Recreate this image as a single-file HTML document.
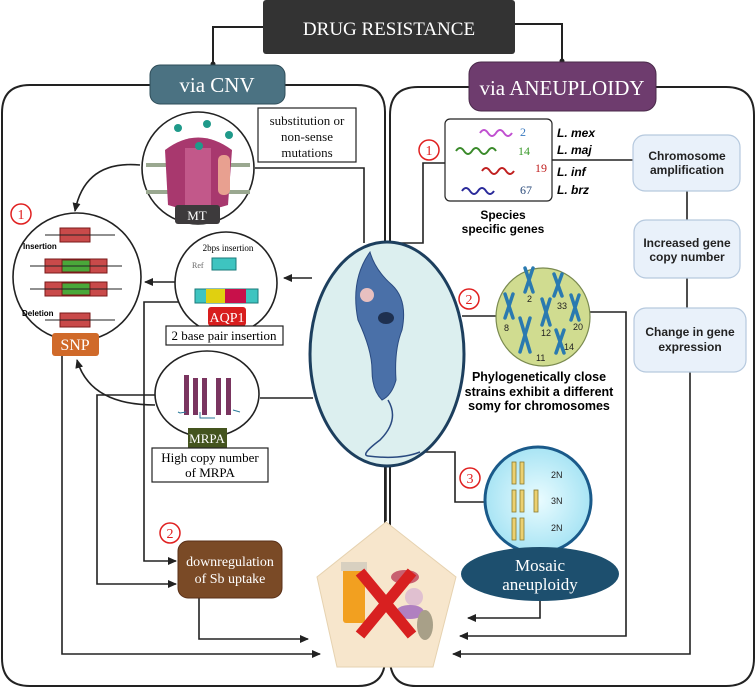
<!DOCTYPE html>
<html><head><meta charset="utf-8"><style>
html,body{margin:0;padding:0;background:#fff;}
svg{display:block;}
.s{font-family:"Liberation Serif",serif;}
.b{font-family:"Liberation Sans",sans-serif;font-weight:bold;}
</style></head><body>
<svg width="756" height="689" viewBox="0 0 756 689" xmlns="http://www.w3.org/2000/svg">
<defs>
<marker id="ar" markerWidth="10" markerHeight="10" refX="8" refY="5" orient="auto" markerUnits="userSpaceOnUse">
<path d="M0,1 L9,5 L0,9 Z" fill="#222"/></marker>
<radialGradient id="mg" cx="0.5" cy="0.5" r="0.5"><stop offset="0" stop-color="#eafcff"/><stop offset="1" stop-color="#a8e4f4"/></radialGradient>
</defs>
<g fill="none" stroke="#222" stroke-width="2">
<!-- panels -->
<path d="M150,85 H30 Q2,85 2,113 V658 Q2,686 30,686 H358 Q383,686 385,662 V112 Q385,85 357,85 H285"/>
<path d="M469,87 H418 Q390,87 390,115 V662 Q392,686 416,686 H726 Q754,686 754,658 V115 Q754,87 726,87 H656"/>
<!-- title connectors -->
<path d="M263,27 H213 V64"/><path d="M515,24 H562 V61"/>
</g>
<circle cx="213" cy="64" r="2.5" fill="#222"/><circle cx="562" cy="61" r="2.5" fill="#222"/>
<!-- title -->
<rect x="263" y="0" width="252" height="54" rx="3" fill="#333"/>
<text x="389" y="35" class="s" font-size="19" fill="#fff" text-anchor="middle">DRUG RESISTANCE</text>
<rect x="150" y="65" width="135" height="39" rx="10" fill="#4b7282" stroke="#2e4c58"/>
<text x="217" y="92" class="s" font-size="21" fill="#fff" text-anchor="middle">via CNV</text>
<rect x="469" y="62" width="187" height="49" rx="12" fill="#6e3c6e" stroke="#4a2a4a"/>
<text x="562" y="95" class="s" font-size="21" fill="#fff" text-anchor="middle">via ANEUPLOIDY</text>

<!-- connectors left -->
<g fill="none" stroke="#222" stroke-width="1.6">
<path d="M255,168 H364 V243"/>
<path d="M140,165 Q85,160 75,211" marker-end="url(#ar)"/>
<path d="M312,278 H284" marker-end="url(#ar)"/>
<path d="M175,282 H145" marker-end="url(#ar)"/>
<path d="M183,302 H144 V561 H176" marker-end="url(#ar)"/>
<path d="M313,398 H260"/>
<path d="M155,395 H97 V584 H176" marker-end="url(#ar)"/>
<path d="M155,405 Q90,405 77,360" marker-end="url(#ar)"/>
<path d="M62,356 V654 H320" marker-end="url(#ar)"/>
<path d="M199,598 V639 H308" marker-end="url(#ar)"/>
<path d="M386,466 V521"/>
<!-- right -->
<path d="M445,163 H423 V243 H390"/>
<path d="M552,160 H633"/>
<path d="M687,191 V220 M687,278 V308"/>
<path d="M462,316 H497"/>
<path d="M590,312 H626 V636 H460" marker-end="url(#ar)"/>
<path d="M425,452 H455 V502 H485"/>
<path d="M540,600 V618 H468" marker-end="url(#ar)"/>
<path d="M690,372 V654 H453" marker-end="url(#ar)"/>
</g>

<!-- MT -->
<circle cx="198" cy="168" r="56" fill="#fff" stroke="#222" stroke-width="1.6"/>
<rect x="146" y="163" width="104" height="4" fill="#9aa890"/><rect x="146" y="190" width="104" height="4" fill="#9aa890"/>
<path d="M165,150 Q198,125 232,150 L228,205 Q198,215 168,205 Z" fill="#a8386e"/>
<rect x="185" y="148" width="26" height="60" fill="#c2588a"/>
<rect x="218" y="155" width="12" height="40" rx="5" fill="#e8a090"/>
<circle cx="178" cy="128" r="4" fill="#1f9a8a"/><circle cx="207" cy="124" r="4" fill="#1f9a8a"/><circle cx="229" cy="135" r="4" fill="#1f9a8a"/><circle cx="199" cy="146" r="4" fill="#1f9a8a"/>
<rect x="175" y="205" width="45" height="19" rx="3" fill="#3d3a3c"/>
<text x="197" y="220" class="s" font-size="13" fill="#fff" text-anchor="middle">MT</text>
<rect x="258" y="108" width="98" height="54" fill="#fff" stroke="#222" stroke-width="1.2"/>
<text class="s" font-size="13" text-anchor="middle" fill="#111"><tspan x="307" y="125">substitution or</tspan><tspan x="307" y="141">non-sense</tspan><tspan x="307" y="157">mutations</tspan></text>

<!-- SNP -->
<circle cx="77" cy="277" r="64" fill="#fff" stroke="#222" stroke-width="1.6"/>
<circle cx="21" cy="214" r="10" fill="none" stroke="#e02020" stroke-width="1.5"/>
<text x="21" y="219" class="s" font-size="14" fill="#e02020" text-anchor="middle">1</text>
<g stroke="#7a1a1a" stroke-width="1">
<rect x="60" y="228" width="30" height="14" fill="#c94a4a"/>
<rect x="45" y="259" width="62" height="14" fill="#c94a4a"/><rect x="62" y="260" width="28" height="12" fill="#4aa83a"/>
<rect x="45" y="282" width="62" height="14" fill="#c94a4a"/><rect x="62" y="283" width="28" height="12" fill="#4aa83a"/>
<rect x="60" y="313" width="30" height="14" fill="#c94a4a"/>
</g>
<g stroke="#222" stroke-width="1"><path d="M45,235 H115 M30,266 H122 M30,289 H122 M45,320 H115"/></g>
<text x="23" y="249" class="b" font-size="8">Insertion</text>
<text x="22" y="316" class="b" font-size="8">Deletion</text>
<rect x="52" y="333" width="47" height="23" rx="3" fill="#d06a2a"/>
<text x="75" y="350" class="s" font-size="16" fill="#fff" text-anchor="middle">SNP</text>

<!-- AQP1 -->
<circle cx="226" cy="283" r="51" fill="#fff" stroke="#222" stroke-width="1.6"/>
<text x="228" y="251" class="s" font-size="9" text-anchor="middle">2bps insertion</text>
<text x="192" y="268" class="s" font-size="8" fill="#666">Ref</text>
<rect x="212" y="258" width="24" height="12" fill="#3ec4c0" stroke="#1a7a7a"/>
<rect x="195" y="289" width="63" height="14" fill="#3ec4c0" stroke="#1a7a7a"/>
<rect x="206" y="289" width="19" height="14" fill="#e0d010"/><rect x="225" y="289" width="21" height="14" fill="#c8104a"/>
<rect x="208" y="307" width="38" height="19" rx="3" fill="#d81e1e"/>
<text x="227" y="322" class="s" font-size="14" fill="#fff" text-anchor="middle">AQP1</text>
<rect x="166" y="326" width="117" height="19" fill="#fff" stroke="#222" stroke-width="1.2"/>
<text x="224" y="340" class="s" font-size="13" text-anchor="middle">2 base pair insertion</text>

<!-- MRPA -->
<ellipse cx="207" cy="394" rx="52" ry="43" fill="#fff" stroke="#222" stroke-width="1.6"/>
<g fill="#7a3560"><rect x="184" y="375" width="5" height="40"/><rect x="193" y="378" width="5" height="37"/><rect x="202" y="378" width="5" height="37"/><rect x="216" y="378" width="5" height="37"/><rect x="226" y="378" width="5" height="37"/></g>
<path d="M178,412 L180,413 L186,412 M200,412 V418 H215 M233,410 L240,412" stroke="#2a7a9a" fill="none"/>
<rect x="188" y="428" width="39" height="20" fill="#44541e"/>
<text x="207" y="443" class="s" font-size="13" fill="#fff" text-anchor="middle">MRPA</text>
<rect x="152" y="448" width="116" height="34" fill="#fff" stroke="#222" stroke-width="1.2"/>
<text class="s" font-size="13" text-anchor="middle"><tspan x="210" y="462">High copy number</tspan><tspan x="210" y="477">of MRPA</tspan></text>

<!-- downreg -->
<circle cx="170" cy="533" r="10" fill="none" stroke="#e02020" stroke-width="1.5"/>
<text x="170" y="538" class="s" font-size="14" fill="#e02020" text-anchor="middle">2</text>
<rect x="178" y="541" width="104" height="57" rx="10" fill="#7a4a26" stroke="#5a3018"/>
<text class="s" font-size="14" fill="#fff" text-anchor="middle"><tspan x="230" y="566">downregulation</tspan><tspan x="230" y="583">of Sb uptake</tspan></text>

<!-- parasite -->
<ellipse cx="387" cy="354" rx="77" ry="112" fill="#dcefef" stroke="#1d3f5e" stroke-width="3"/>
<path d="M370,252 Q350,280 358,320 Q372,350 372,370 Q372,390 382,400 Q392,395 396,380 Q394,350 402,330 Q408,300 392,285 Q375,270 370,252 Z" fill="#4a70a8" stroke="#2a4a80"/>
<ellipse cx="386" cy="318" rx="8" ry="6" fill="#1e3050"/>
<ellipse cx="367" cy="295" rx="7" ry="7" fill="#e8c0c0"/>
<path d="M388,400 Q400,420 380,440 Q360,455 368,456 Q400,460 420,452" fill="none" stroke="#2a4a80" stroke-width="1.5"/>

<!-- species -->
<circle cx="429" cy="150" r="10" fill="none" stroke="#e02020" stroke-width="1.5"/>
<text x="429" y="155" class="s" font-size="14" fill="#e02020" text-anchor="middle">1</text>
<rect x="445" y="119" width="107" height="82" rx="5" fill="#fff" stroke="#222" stroke-width="1.2"/>
<g stroke-width="2" fill="none">
<path d="M480,133 q4,-6 8,0 t8,0 t8,0 t8,0" stroke="#c050d0"/><path d="M456,151 q4,-6 8,0 t8,0 t8,0 t8,0 t8,0" stroke="#3a8a2a"/>
<path d="M482,171 q4,-6 8,0 t8,0 t8,0 t8,0" stroke="#c02020"/><path d="M462,191 q4,-6 8,0 t8,0 t8,0 t8,0" stroke="#2a2a9a"/>
</g>
<text x="520" y="136" font-family="Liberation Serif,serif" font-size="12" fill="#3a7ac0">2</text>
<text x="518" y="155" font-family="Liberation Serif,serif" font-size="12" fill="#3a9a2a">14</text>
<text x="535" y="172" font-family="Liberation Serif,serif" font-size="12" fill="#c02020">19</text>
<text x="520" y="194" font-family="Liberation Serif,serif" font-size="12" fill="#2a4a7a">67</text>
<g class="b" font-size="12" font-style="italic"><text x="557" y="137">L. mex</text><text x="557" y="154">L. maj</text><text x="557" y="176">L. inf</text><text x="557" y="194">L. brz</text></g>
<text class="b" font-size="12" text-anchor="middle"><tspan x="503" y="219">Species</tspan><tspan x="503" y="233">specific genes</tspan></text>

<!-- right boxes -->
<g fill="#e9f1fa" stroke="#b6c9de" stroke-width="1.2">
<rect x="633" y="135" width="107" height="56" rx="12"/><rect x="634" y="220" width="106" height="58" rx="12"/><rect x="634" y="308" width="112" height="64" rx="12"/></g>
<g class="b" font-size="12" text-anchor="middle" fill="#222">
<text><tspan x="687" y="160">Chromosome</tspan><tspan x="687" y="174">amplification</tspan></text>
<text><tspan x="687" y="247">Increased gene</tspan><tspan x="687" y="261">copy number</tspan></text>
<text><tspan x="690" y="336">Change in gene</tspan><tspan x="690" y="351">expression</tspan></text>
</g>

<!-- chromosomes -->
<circle cx="469" cy="299" r="10" fill="none" stroke="#e02020" stroke-width="1.5"/>
<text x="469" y="304" class="s" font-size="14" fill="#e02020" text-anchor="middle">2</text>
<ellipse cx="543" cy="317" rx="47" ry="49" fill="#d0dc90" stroke="#7a8a50" stroke-width="1.2"/>
<g stroke="#2a7ab0" stroke-width="3.5" stroke-linecap="round">
<path d="M525,268 L533,292 M533,268 L525,292 M554,274 L562,296 M562,274 L554,296 M505,294 L513,318 M513,294 L505,318 M542,299 L550,325 M550,299 L542,325 M571,295 L579,320 M579,295 L571,320 M520,318 L530,352 M530,318 L520,352 M556,330 L564,353 M564,330 L556,353"/></g>
<g font-family="Liberation Sans,sans-serif" font-size="9" fill="#222"><text x="527" y="302">2</text><text x="557" y="309">33</text><text x="504" y="331">8</text><text x="541" y="336">12</text><text x="573" y="330">20</text><text x="564" y="350">14</text><text x="536" y="361">11</text></g>
<text class="b" font-size="12.5" text-anchor="middle"><tspan x="539" y="381">Phylogenetically close</tspan><tspan x="539" y="396">strains exhibit a different</tspan><tspan x="539" y="410">somy for chromosomes</tspan></text>

<!-- mosaic -->
<circle cx="470" cy="478" r="10" fill="none" stroke="#e02020" stroke-width="1.5"/>
<text x="470" y="483" class="s" font-size="14" fill="#e02020" text-anchor="middle">3</text>
<circle cx="538" cy="500" r="53" fill="url(#mg)" stroke="#1a5a8a" stroke-width="3"/>
<g fill="#ecd070" stroke="#8a7a30" stroke-width="0.8">
<rect x="512" y="462" width="4" height="22"/><rect x="520" y="462" width="4" height="22"/>
<rect x="512" y="490" width="4" height="22"/><rect x="520" y="490" width="4" height="22"/><rect x="534" y="490" width="4" height="22"/>
<rect x="512" y="518" width="4" height="22"/><rect x="520" y="518" width="4" height="22"/></g>
<g font-family="Liberation Sans,sans-serif" font-size="9" fill="#222"><text x="551" y="478">2N</text><text x="551" y="504">3N</text><text x="551" y="531">2N</text></g>
<ellipse cx="540" cy="574" rx="79" ry="27" fill="#1d4f6e"/>
<text class="s" font-size="17" fill="#fff" text-anchor="middle"><tspan x="540" y="571">Mosaic</tspan><tspan x="540" y="590">aneuploidy</tspan></text>

<!-- drug pentagon -->
<path d="M386,522 L456,577 L433,667 L337,667 L317,577 Z" fill="#f7e6cc" stroke="#e6d2b0"/>
<rect x="343" y="563" width="22" height="60" rx="3" fill="#f2a020"/>
<rect x="341" y="562" width="26" height="9" fill="#d8d0c0"/>
<ellipse cx="405" cy="577" rx="14" ry="7" fill="#c86070"/><ellipse cx="414" cy="597" rx="9" ry="9" fill="#e0c0d0"/><ellipse cx="410" cy="612" rx="14" ry="7" fill="#b080c0"/><ellipse cx="425" cy="625" rx="8" ry="15" fill="#a8a088"/>
<path d="M360,572 L412,635 M412,572 L360,635" stroke="#d82020" stroke-width="11"/>
</svg>
</body></html>
